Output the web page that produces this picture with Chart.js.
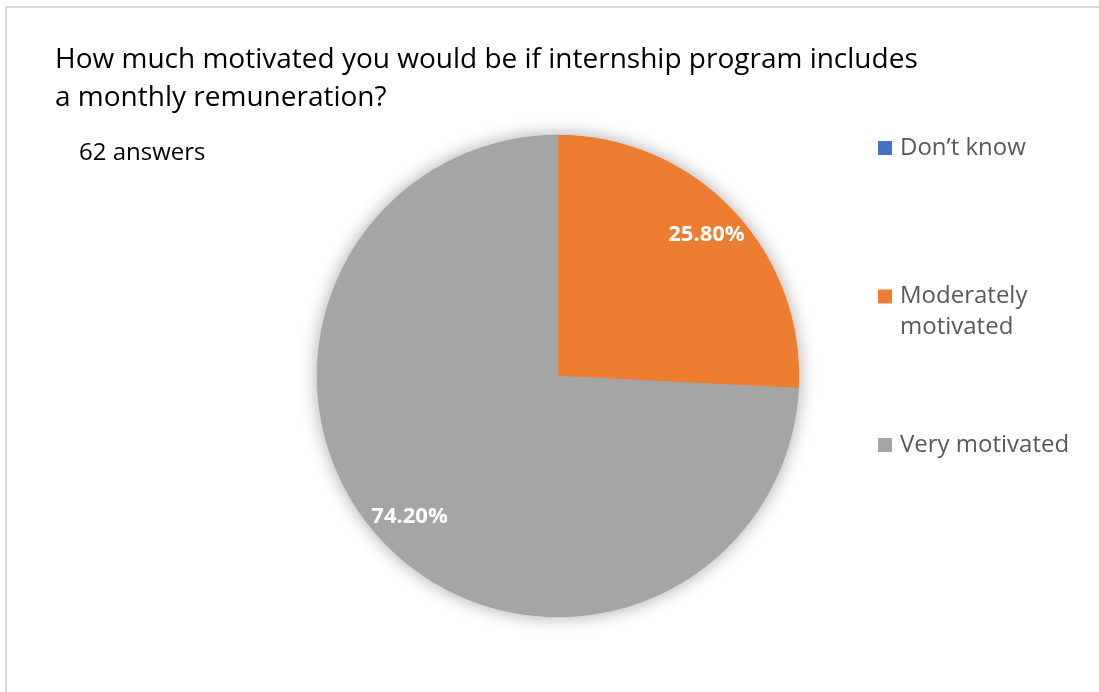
<!DOCTYPE html>
<html>
<head>
<meta charset="utf-8">
<script src="https://cdn.jsdelivr.net/npm/chart.js@4.4.1/dist/chart.umd.min.js"></script>
<style>
  html, body { margin: 0; padding: 0; background: #fff; overflow: hidden; }
  #frame { position: absolute; left: 5px; top: 6px; right: -10px; bottom: -10px;
           border-left: 2px solid #d9d9d9; border-top: 2px solid #d9d9d9; }
  #wrap { position: absolute; left: 0; top: 0; width: 1099px; height: 692px; }
</style>
</head>
<body>
<div id="frame"></div>
<div id="wrap"><canvas id="pieChart"></canvas></div>
<script>
const categories = ['Don’t know', 'Moderately motivated', 'Very motivated'];
const shares = [0, 25.8, 74.2];
const sliceColors = ['#4472C4', '#ED7D31', '#A5A5A5'];
const titleLines = ['How much motivated you would be if internship program includes', 'a monthly remuneration?'];
const answerCount = 62;

const FONT = '"Open Sans", "Noto Sans", sans-serif';

// soft glow behind the whole pie
const pieShadow = {
  id: 'pieShadow',
  beforeDatasetsDraw(chart) {
    const arc = chart.getDatasetMeta(0).data[0];
    const { x, y, outerRadius } = arc.getProps(['x', 'y', 'outerRadius'], true);
    const ctx = chart.ctx;
    ctx.save();
    ctx.shadowColor = 'rgba(0, 0, 0, 0.35)';
    ctx.shadowBlur = 18;
    ctx.fillStyle = '#A5A5A5';
    ctx.beginPath();
    ctx.arc(x, y, outerRadius, 0, Math.PI * 2);
    ctx.fill();
    ctx.restore();
  }
};

// percentage labels inside the slices
const sliceLabels = {
  id: 'sliceLabels',
  afterDatasetsDraw(chart) {
    const ctx = chart.ctx;
    const meta = chart.getDatasetMeta(0);
    ctx.save();
    ctx.font = 'bold 22px ' + FONT;
    ctx.fillStyle = '#ffffff';
    ctx.textAlign = 'center';
    ctx.textBaseline = 'middle';
    meta.data.forEach((arc, i) => {
      if (!shares[i]) return;
      const { x, y, startAngle, endAngle, outerRadius } =
        arc.getProps(['x', 'y', 'startAngle', 'endAngle', 'outerRadius'], true);
      const mid = (startAngle + endAngle) / 2;
      const r = outerRadius * 0.85;
      ctx.fillText(shares[i].toFixed(2) + '%', x + r * Math.cos(mid), y + r * Math.sin(mid));
    });
    ctx.restore();
  }
};

function wrapWords(ctx, text, maxWidth) {
  const words = text.split(' ');
  const lines = [];
  let line = '';
  words.forEach(w => {
    const test = line ? line + ' ' + w : w;
    if (line && ctx.measureText(test).width > maxWidth) {
      lines.push(line);
      line = w;
    } else {
      line = test;
    }
  });
  lines.push(line);
  return lines;
}

// title, answer count and the legend on the right
const textBlocks = {
  id: 'textBlocks',
  afterDraw(chart) {
    const ctx = chart.ctx;
    ctx.save();
    ctx.textAlign = 'left';
    ctx.textBaseline = 'alphabetic';

    ctx.fillStyle = '#000000';
    ctx.font = '28px ' + FONT;
    titleLines.forEach((line, i) => ctx.fillText(line, 55, 68 + i * 38));

    ctx.font = '24px ' + FONT;
    ctx.fillText(answerCount + ' answers', 79, 160);

    ctx.font = '24px ' + FONT;
    ctx.textBaseline = 'middle';
    categories.forEach((label, i) => {
      const cy = 148 + i * 148.5;
      ctx.fillStyle = sliceColors[i];
      ctx.fillRect(878, cy - 7, 14, 14);
      ctx.fillStyle = '#595959';
      wrapWords(ctx, label, 185).forEach((ln, j) => ctx.fillText(ln, 900, cy + j * 31));
    });
    ctx.restore();
  }
};

new Chart(document.getElementById('pieChart').getContext('2d'), {
  type: 'pie',
  data: {
    labels: categories,
    datasets: [{
      data: shares,
      backgroundColor: sliceColors,
      borderWidth: 0
    }]
  },
  options: {
    responsive: true,
    maintainAspectRatio: false,
    animation: false,
    layout: { padding: { left: 317, right: 300, top: 135, bottom: 75 } },
    plugins: {
      legend: { display: false },
      tooltip: { enabled: false }
    }
  },
  plugins: [pieShadow, sliceLabels, textBlocks]
});
</script>
</body>
</html>
